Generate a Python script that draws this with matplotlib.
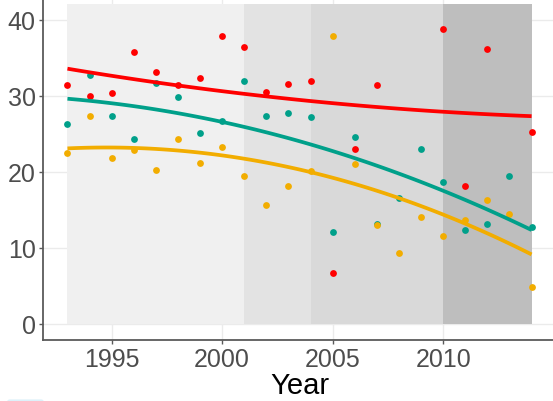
import numpy as np
import matplotlib
matplotlib.use("Agg")
import matplotlib.pyplot as plt
from matplotlib.patches import Rectangle, FancyBboxPatch

plt.rcParams["font.family"] = ["Liberation Sans", "DejaVu Sans"]

years = np.arange(1993, 2015)

# values (nan = no point that year)
red = [31.4, 30.0, 30.4, 35.8, 33.1, 31.4, 32.3, 37.8, 36.4, 30.5, 31.6,
       32.0, 6.7, 23.0, 31.4, np.nan, np.nan, 38.8, 18.1, 36.1, np.nan, 25.3]
teal = [26.3, 32.7, 27.3, 24.3, 31.7, 29.8, 25.1, 26.7, 32.0, 27.4, 27.8,
        27.2, 12.1, 24.6, 13.2, 16.6, 23.0, 18.6, 12.4, 13.1, 19.4, 12.8]
orange = [22.5, 27.3, 21.8, 22.9, 20.3, 24.3, 21.2, 23.3, 19.4, 15.7, 18.2,
          20.1, 37.8, 21.0, 13.0, 9.3, 14.1, 11.5, 13.7, 16.3, 14.4, 4.9]

# shaded periods
period_start = [1993, 2001, 2004, 2010]
period_end = [2001, 2004, 2010, 2014]
period_color = ["#F0F0F0", "#E3E3E3", "#D9D9D9", "#BEBEBE"]
period_top = 42.1

series = [("red", red, "#FF0000"), ("teal", teal, "#00A08A"),
          ("orange", orange, "#F2AD00")]

fig = plt.figure(figsize=(5.53, 4.02), dpi=100)
ax = fig.add_axes([0.0772, 0.1525, 0.9288, 0.8754])

for s, e, c in zip(period_start, period_end, period_color):
    ax.add_patch(Rectangle((s, 0), e - s, period_top, facecolor=c,
                           edgecolor="none", zorder=1))

xs = np.linspace(1993, 2014, 80)
for name, vals, col in series:
    v = np.array(vals, dtype=float)
    ok = ~np.isnan(v)
    ax.scatter(years[ok], v[ok], s=24, color=col, linewidths=0, zorder=3)
for name, vals, col in series:
    v = np.array(vals, dtype=float)
    ok = ~np.isnan(v)
    # quadratic trend, like geom_smooth(method="lm", formula=y ~ poly(x, 2))
    coef = np.polyfit(years[ok] - 2000.0, v[ok], 2)
    ax.plot(xs, np.polyval(coef, xs - 2000.0), color=col,
            linewidth=2.7, zorder=4, solid_capstyle="butt")

ax.set_xlim(1991.88, 2015.12)
ax.set_ylim(-2.07, 44.2)
ax.set_xticks([1995, 2000, 2005, 2010])
ax.set_yticks([0, 10, 20, 30, 40])
ax.grid(True, color="#EBEBEB", linewidth=1.0)
ax.set_axisbelow(True)

for side in ["top", "right"]:
    ax.spines[side].set_visible(False)
for side in ["left", "bottom"]:
    ax.spines[side].set_color("#5A5A5A")
    ax.spines[side].set_linewidth(1.3)
ax.tick_params(colors="#5A5A5A", labelcolor="#4D4D4D", labelsize=18,
               length=3, width=1.0, pad=2)
ax.set_xlabel("Year", fontsize=21, color="black", labelpad=0)

fig.patches.append(FancyBboxPatch((0.013, -0.01), 0.066, 0.014,
                                  boxstyle="round,pad=0,rounding_size=0.005",
                                  transform=fig.transFigure,
                                  facecolor="#DDF1FA", edgecolor="none"))

fig.savefig("out.png", dpi=100)
